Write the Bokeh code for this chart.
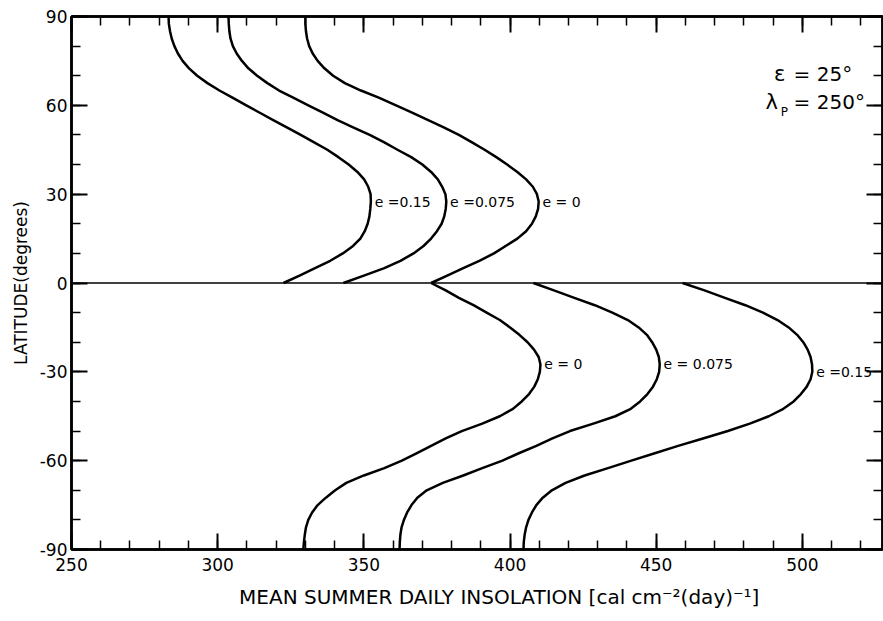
import numpy as np
from bokeh.plotting import figure
from bokeh.models import Range1d, LinearAxis, SingleIntervalTicker, Span
from bokeh.core.properties import value
from bokeh.embed import file_html
from bokeh.resources import INLINE

# ---------------- data ----------------
lat_north = [0, 2.5, 5, 7.5, 10, 12.5, 15, 17.5, 20, 22.5, 25, 27.5, 30, 32.5, 35, 37.5,
             40, 42.5, 45, 47.5, 50, 52.5, 55, 57.5, 60, 62.5, 65, 67.5, 70, 72.5, 75,
             77.5, 80, 82.5, 85, 87.5, 90]
lat_south = [-v for v in lat_north]

# Northern hemisphere, mean summer daily insolation
north_e0 = [373, 378.5, 384, 389.5, 394.5, 398.5, 402.5, 405.5, 407.5, 408.8, 409.6, 409.8,
            409.2, 407.8, 405.5, 402.5, 399, 395.3, 391.3, 387, 382.5, 377.5, 372, 366.5, 361,
            355.3, 349, 343.5, 339.5, 336.5, 334.2, 332.5, 331.3, 330.6, 330.2, 330, 330]
north_e0075 = [343, 350, 357, 362.5, 367, 370.4, 373, 375, 376.6, 377.5, 378, 378.2, 377.9,
               376.8, 375.3, 373, 370, 366.2, 361.5, 357, 352, 346.5, 341, 336, 331, 326,
               321, 317, 313.5, 310.5, 308.3, 306.5, 305.2, 304.4, 304, 303.8, 303.7]
north_e015 = [322.5, 328, 333.3, 338.5, 342.8, 346.3, 348.8, 350.3, 351.3, 351.9, 352.2,
              352.4, 352.3, 351.5, 350.1, 347.8, 344.8, 341.3, 337.5, 333, 328.4, 323.8,
              319, 314.4, 309.8, 305.2, 300.6, 296.5, 293, 290.2, 288, 286.4, 285.2, 284.3,
              283.7, 283.3, 283.2]

# Southern hemisphere
south_e0 = [373, 378, 382.5, 387.5, 392, 396.5, 400, 403.2, 406, 408.2, 409.8, 410.4, 410.2,
            409.5, 408.3, 406.5, 404, 401, 396.5, 390.5, 383.5, 378, 373, 368, 363, 357, 350,
            344, 340.2, 337, 334.2, 332.3, 331, 330.2, 329.8, 329.5, 329.3]
south_e0075 = [408, 415, 422, 429, 435, 440.3, 444, 446.8, 448.6, 450, 450.9, 451.2, 451,
               450.2, 448.9, 447, 444.5, 441.3, 436, 428.5, 420.5, 414.5, 409, 403, 397.4,
               390.5, 384, 377, 371.5, 368.3, 366.3, 364.8, 363.7, 362.9, 362.5, 362.3, 362.2]
south_e015 = [459, 466.5, 473.5, 480.5, 486.5, 491.5, 495.3, 498.2, 500.3, 501.8, 502.8,
              503.3, 503.4, 502.8, 501.5, 499.5, 497, 493.5, 488.5, 482, 474.5, 466, 457.5,
              449.5, 441.5, 433.5, 425.5, 419, 414.3, 411.2, 409, 407.5, 406.3, 405.5, 405,
              404.7, 404.6]

north_labels = ["e =0.15", "e =0.075", "e = 0"]
south_labels = ["e = 0", "e = 0.075", "e =0.15"]

x_ticks = [250, 300, 350, 400, 450, 500]
y_ticks = [-90, -60, -30, 0, 30, 60, 90]

x_title = "MEAN SUMMER DAILY INSOLATION [cal cm\u207b\u00b2(day)\u207b\u00b9]"
y_title = "LATITUDE(degrees)"

# ---------------- figure ----------------
FONT = "DejaVu Sans"

p = figure(frame_width=811, frame_height=533,
           x_range=Range1d(250, 527.4), y_range=Range1d(-90, 90),
           output_backend="svg", toolbar_location=None,
           min_border_left=71, min_border_right=1, min_border_top=16, min_border_bottom=72,
           background_fill_color="white", border_fill_color="white")
p.grid.visible = False
p.outline_line_color = "black"
p.outline_line_width = 2.5

xticker = SingleIntervalTicker(interval=50, num_minor_ticks=5)
yticker = SingleIntervalTicker(interval=30, num_minor_ticks=3)


def style(ax):
    ax.axis_line_width = 2.5
    ax.axis_line_color = "black"
    ax.major_tick_in = 16
    ax.major_tick_out = 0
    ax.minor_tick_in = 9
    ax.minor_tick_out = 0
    ax.major_tick_line_width = 2
    ax.minor_tick_line_width = 1.5
    ax.major_tick_line_color = "black"
    ax.minor_tick_line_color = "black"
    ax.major_label_text_font = FONT
    ax.major_label_text_color = "black"
    ax.major_label_text_font_size = "17px"
    ax.axis_label_text_font = FONT
    ax.axis_label_text_font_style = "normal"
    ax.axis_label_text_color = "black"


xb = p.below[0]
yl = p.left[0]
xb.ticker = xticker
yl.ticker = yticker
style(xb)
style(yl)
xb.major_label_overrides = {v: str(v) for v in x_ticks}
yl.major_label_overrides = {v: str(v) for v in y_ticks}
xb.major_label_standoff = 8
xb.axis_label = "\u00a0" * 7 + x_title
xb.axis_label_text_font_size = "20px"
xb.axis_label_standoff = 11
yl.major_label_standoff = 4
yl.axis_label = y_title
yl.axis_label_text_font_size = "17px"
yl.axis_label_standoff = 6

xt = LinearAxis(ticker=xticker)
style(xt)
xt.major_label_overrides = {v: "" for v in x_ticks}
xt.major_label_text_font_size = "1px"
xt.major_label_standoff = 0
p.add_layout(xt, "above")
yr = LinearAxis(ticker=yticker)
style(yr)
yr.major_label_overrides = {v: "" for v in y_ticks}
yr.major_label_text_font_size = "1px"
yr.major_label_standoff = 0
p.add_layout(yr, "right")

p.add_layout(Span(location=0, dimension="width", line_color="black", line_width=1.5))

north = [north_e015, north_e0075, north_e0]
south = [south_e0, south_e0075, south_e015]
for ins in north:
    p.line(x=ins, y=lat_north, line_color="black", line_width=2.5, line_join="round")
for ins in south:
    p.line(x=ins, y=lat_south, line_color="black", line_width=2.5, line_join="round")

# curve labels placed at each curve's maximum
for series, lats, labs in ((north, lat_north, north_labels), (south, lat_south, south_labels)):
    for ins, lab in zip(series, labs):
        i = int(np.argmax(ins))
        p.text(x=[ins[i] + 1.3], y=[lats[i]], text=[lab], text_font=value(FONT),
               text_font_size="14px", text_baseline="middle", text_align="left",
               text_color="black")

# parameter annotation
p.text(x=[490.3], y=[70.5], text=["\u03b5"], text_font=value(FONT), text_font_size="21px",
       text_baseline="middle", text_align="left", text_color="black")
p.text(x=[497.0], y=[70.5], text=["= 25\u00b0"], text_font=value(FONT), text_font_size="20px",
       text_baseline="middle", text_align="left", text_color="black")
p.text(x=[487.4], y=[61], text=["\u03bb"], text_font=value(FONT), text_font_size="21px",
       text_baseline="middle", text_align="left", text_color="black")
p.text(x=[492.6], y=[57.6], text=["P"], text_font=value(FONT), text_font_size="12px",
       text_baseline="middle", text_align="left", text_color="black")
p.text(x=[497.0], y=[61], text=["= 250\u00b0"], text_font=value(FONT), text_font_size="20px",
       text_baseline="middle", text_align="left", text_color="black")

open("out.html", "w").write(file_html(p, INLINE))
